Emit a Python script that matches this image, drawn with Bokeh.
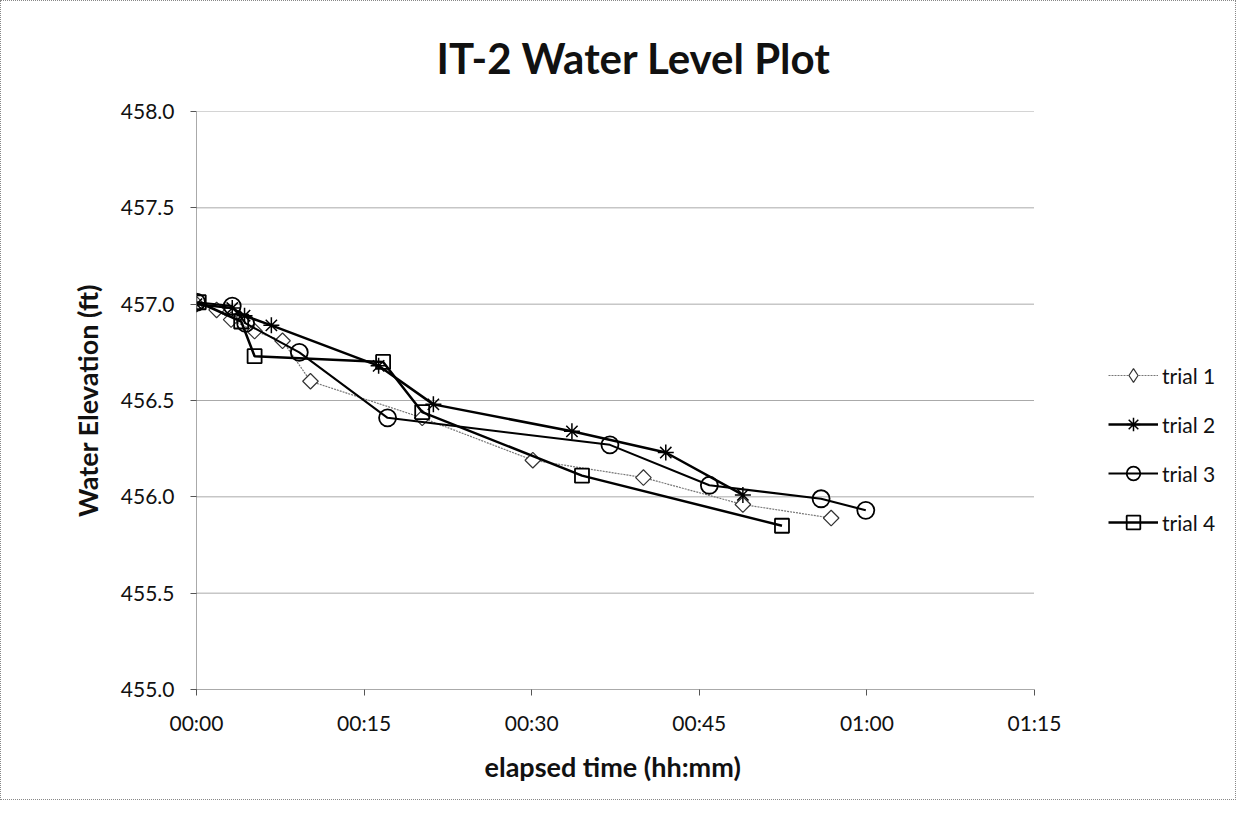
import math
from bokeh.plotting import figure
from bokeh.models import Legend, LegendItem, FixedTicker, Title
from bokeh.embed import file_html
from bokeh.resources import INLINE

# ---- data (minutes elapsed, water elevation ft) ----
trial1_t = [0.0, 1.8, 3.1, 5.2, 7.7, 10.2, 20.2, 30.1, 40.0, 48.9, 56.8]
trial1_y = [457.00, 456.97, 456.92, 456.86, 456.81, 456.60, 456.41, 456.19, 456.10, 455.96, 455.89]

trial2_t = [0.0, 3.2, 4.3, 6.7, 16.3, 21.2, 33.6, 42.0, 48.9]
trial2_y = [457.00, 456.98, 456.94, 456.89, 456.68, 456.48, 456.34, 456.23, 456.01]

trial3_t = [0.0, 3.2, 4.4, 9.2, 17.1, 37.0, 45.9, 55.9, 59.9]
trial3_y = [457.01, 456.99, 456.90, 456.75, 456.41, 456.27, 456.06, 455.99, 455.93]

trial4_t = [0.2, 4.0, 5.2, 16.7, 20.2, 34.5, 52.4]
trial4_y = [457.01, 456.91, 456.73, 456.70, 456.44, 456.11, 455.85]

x_ticks = [0, 15, 30, 45, 60, 75]
x_tick_labels = ["00:00", "00:15", "00:30", "00:45", "01:00", "01:15"]
y_ticks = [455.0, 455.5, 456.0, 456.5, 457.0, 457.5, 458.0]

FONT = "Lato"

# plot frame spans 203..1236 px; the axis (0..75 min) covers 203..1041 px,
# the remaining space on the right holds the legend
X_MIN, X_AXIS_END = x_ticks[0], x_ticks[-1]
FRAME_W = 1236 - 195 - 8
AXIS_W = 838
X_RANGE_END = X_AXIS_END * FRAME_W / AXIS_W

p = figure(width=1236, height=800, output_backend="svg", toolbar_location=None,
           x_range=(X_MIN, X_RANGE_END), y_range=(y_ticks[0], y_ticks[-1]),
           min_border_left=195, min_border_right=8,
           min_border_top=110, min_border_bottom=112)
p.styles = {"border": "1px dotted #888888"}

p.title.text = "IT-2 Water Level Plot"
p.title.align = "left"
p.title.offset = 240
p.title.text_font = FONT
p.title.text_font_size = "42px"
p.title.text_font_style = "bold"
p.title.text_color = "#111111"
p.title.standoff = 57

p.outline_line_color = None
p.background_fill_color = "white"
p.border_fill_color = "white"

# axes
p.xaxis.ticker = FixedTicker(ticks=x_ticks)
p.xaxis.bounds = (X_MIN, X_AXIS_END)
p.xaxis.major_label_overrides = {t: l for t, l in zip(x_ticks, x_tick_labels)}
p.yaxis.ticker = FixedTicker(ticks=y_ticks)
p.yaxis.major_label_overrides = {t: f"{t:.1f}" for t in y_ticks}
for ax in (p.xaxis[0], p.yaxis[0]):
    ax.axis_line_color = "#555555"
    ax.axis_line_dash = "1 1"
    ax.major_tick_line_color = "#555555"
    ax.major_tick_in = 0
    ax.major_tick_out = 6
    ax.minor_tick_line_color = None
    ax.major_label_text_font = FONT
    ax.major_label_text_font_size = "21px"
    ax.major_label_text_color = "#111111"
    ax.axis_label_text_font = FONT
    ax.axis_label_text_font_size = "27px"
    ax.axis_label_text_font_style = "bold"
    ax.axis_label_text_color = "#111111"
p.yaxis.axis_label = "Water Elevation (ft)"
p.xaxis.major_label_standoff = 14
p.yaxis.major_label_standoff = 16
p.yaxis.axis_label_standoff = 14

# x-axis title, centred under the 0..75 min axis
xlab = Title(text="elapsed time (hh:mm)", align="left", offset=288, standoff=20,
             text_font=FONT, text_font_size="27px", text_font_style="bold",
             text_color="#111111")
p.add_layout(xlab, "below")

p.xgrid.grid_line_color = None
p.ygrid.grid_line_color = None

# horizontal gridlines limited to the axis extent
gy = y_ticks[1:]
p.segment(x0=[X_MIN] * len(gy), y0=gy, x1=[X_AXIS_END] * len(gy), y1=gy,
          line_color="#555555", line_dash="1 1", line_width=1)

# series
l1 = p.line(trial1_t, trial1_y, line_color="#777777", line_width=1.2, line_dash="2 1")
m1 = p.scatter(trial1_t, trial1_y, marker="square", angle=math.pi / 4, size=11,
               fill_color="white", line_color="#333333", line_width=1.2)
# same points drawn as a diamond marker; hidden in the plot, only used for the legend swatch
m1_leg = p.scatter(trial1_t, trial1_y, marker="diamond", size=16,
                   fill_color="white", line_color="#333333", line_width=1.2, visible=False)
l2 = p.line(trial2_t, trial2_y, line_color="black", line_width=2.5)
m2 = p.scatter(trial2_t, trial2_y, marker="asterisk", size=16, line_color="black", line_width=1.5)
l3 = p.line(trial3_t, trial3_y, line_color="black", line_width=2)
m3 = p.scatter(trial3_t, trial3_y, marker="circle", size=17, fill_color="white", fill_alpha=0,
               line_color="black", line_width=1.8)
l4 = p.line(trial4_t, trial4_y, line_color="black", line_width=2.5)
m4 = p.scatter(trial4_t, trial4_y, marker="square", size=14, fill_color="white", fill_alpha=0,
               line_color="black", line_width=1.8)

legend = Legend(items=[
    LegendItem(label="trial 1", renderers=[l1, m1_leg]),
    LegendItem(label="trial 2", renderers=[l2, m2]),
    LegendItem(label="trial 3", renderers=[l3, m3]),
    LegendItem(label="trial 4", renderers=[l4, m4]),
], location=(912, 150))
legend.border_line_color = None
legend.background_fill_alpha = 0
legend.inactive_fill_alpha = 0
legend.label_text_font = FONT
legend.label_text_font_size = "21px"
legend.label_text_color = "#111111"
legend.glyph_width = 50
legend.glyph_height = 34
legend.label_height = 20
legend.label_standoff = 4
legend.spacing = 15
legend.padding = 0
legend.margin = 0
p.add_layout(legend)

open("out.html", "w").write(file_html(p, INLINE))
